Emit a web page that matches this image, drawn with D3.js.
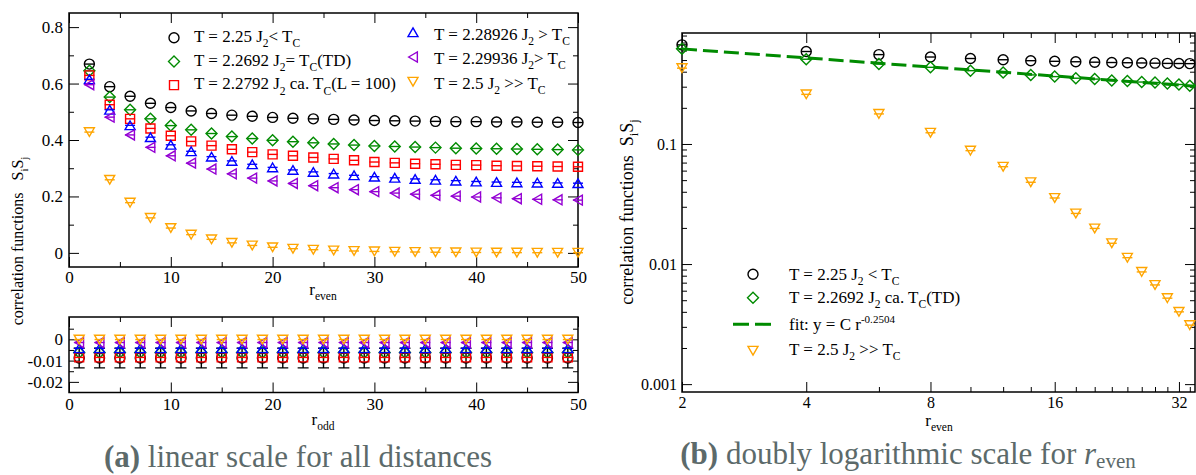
<!DOCTYPE html>
<html>
<head>
<meta charset="utf-8">
<script src="https://cdn.jsdelivr.net/npm/d3@7"></script>
<style>
body { margin: 0; background: #fff; }
svg { display: block; font-family: "Liberation Serif", "DejaVu Serif", "Times New Roman", serif; }
text { white-space: pre; }
</style>
</head>
<body>
<script>
// ---- data ----------------------------------------------------------
const rEven = [2, 4, 6, 8, 10, 12, 14, 16, 18, 20, 22, 24, 26, 28, 30, 32, 34, 36, 38, 40, 42, 44, 46, 48, 50];
const rOdd  = [1, 3, 5, 7, 9, 11, 13, 15, 17, 19, 21, 23, 25, 27, 29, 31, 33, 35, 37, 39, 41, 43, 45, 47, 49];
const rLog  = [2, 4, 6, 8, 10, 12, 14, 16, 18, 20, 22, 24, 26, 28, 30, 32, 34];

// even distances, linear panel
const evenBlack  = [0.669, 0.589, 0.555, 0.530, 0.515, 0.503, 0.494, 0.488, 0.484, 0.480, 0.477, 0.475, 0.473, 0.471, 0.469, 0.468, 0.467, 0.466, 0.465, 0.465, 0.464, 0.464, 0.463, 0.463, 0.462];
const evenGreen  = [0.645, 0.552, 0.507, 0.475, 0.451, 0.436, 0.423, 0.412, 0.405, 0.399, 0.394, 0.390, 0.386, 0.382, 0.379, 0.377, 0.375, 0.373, 0.371, 0.370, 0.369, 0.368, 0.367, 0.366, 0.365];
const evenRed    = [0.629, 0.525, 0.475, 0.441, 0.415, 0.395, 0.380, 0.367, 0.357, 0.349, 0.344, 0.338, 0.333, 0.328, 0.322, 0.319, 0.316, 0.314, 0.312, 0.311, 0.309, 0.308, 0.307, 0.306, 0.305];
const evenBlue   = [0.615, 0.507, 0.452, 0.410, 0.383, 0.360, 0.341, 0.326, 0.314, 0.303, 0.294, 0.287, 0.281, 0.275, 0.270, 0.266, 0.262, 0.259, 0.256, 0.253, 0.251, 0.250, 0.249, 0.248, 0.247];
const evenPurple = [0.596, 0.481, 0.418, 0.374, 0.344, 0.318, 0.297, 0.280, 0.265, 0.255, 0.246, 0.238, 0.231, 0.224, 0.217, 0.212, 0.208, 0.204, 0.201, 0.198, 0.195, 0.192, 0.190, 0.188, 0.187];
const evenOrange = [0.428, 0.259, 0.178, 0.124, 0.088, 0.0647, 0.048, 0.0355, 0.0264, 0.0198, 0.0149, 0.0113, 0.0086, 0.0067, 0.0052, 0.0040, 0.0031, 0.0024, 0.0019, 0.0015, 0.0012, 0.0009, 0.0007, 0.0006, 0.0005];

// odd distances (lower panel)
const oddBlack    = [-0.0088, -0.0088, -0.0088, -0.0088, -0.0088, -0.0088, -0.0088, -0.0088, -0.0088, -0.0088, -0.0088, -0.0088, -0.0088, -0.0088, -0.0088, -0.0088, -0.0088, -0.0088, -0.0088, -0.0088, -0.0088, -0.0088, -0.0088, -0.0088, -0.0088];
const oddBlackErr = [0.0046, 0.0046, 0.0046, 0.0046, 0.0046, 0.0046, 0.0046, 0.0046, 0.0046, 0.0046, 0.0046, 0.0046, 0.0046, 0.0046, 0.0046, 0.0046, 0.0046, 0.0046, 0.0046, 0.0046, 0.0046, 0.0046, 0.0046, 0.0046, 0.0046];
const oddGreen    = [-0.0062, -0.0062, -0.0062, -0.0062, -0.0062, -0.0062, -0.0062, -0.0062, -0.0062, -0.0062, -0.0062, -0.0062, -0.0062, -0.0062, -0.0062, -0.0062, -0.0062, -0.0062, -0.0062, -0.0062, -0.0062, -0.0062, -0.0062, -0.0062, -0.0062];
const oddRed      = [-0.0085, -0.0085, -0.0085, -0.0085, -0.0085, -0.0085, -0.0085, -0.0085, -0.0085, -0.0085, -0.0085, -0.0085, -0.0085, -0.0085, -0.0085, -0.0085, -0.0085, -0.0085, -0.0085, -0.0085, -0.0085, -0.0085, -0.0085, -0.0085, -0.0085];
const oddBlue     = [-0.0042, -0.0042, -0.0042, -0.0042, -0.0042, -0.0042, -0.0042, -0.0042, -0.0042, -0.0042, -0.0042, -0.0042, -0.0042, -0.0042, -0.0042, -0.0042, -0.0042, -0.0042, -0.0042, -0.0042, -0.0042, -0.0042, -0.0042, -0.0042, -0.0042];
const oddPurple   = [-0.0015, -0.0015, -0.0015, -0.0015, -0.0015, -0.0015, -0.0015, -0.0015, -0.0015, -0.0015, -0.0015, -0.0015, -0.0015, -0.0015, -0.0015, -0.0015, -0.0015, -0.0015, -0.0015, -0.0015, -0.0015, -0.0015, -0.0015, -0.0015, -0.0015];
const oddOrange   = [-0.0001, -0.0001, -0.0001, -0.0001, -0.0001, -0.0001, -0.0001, -0.0001, -0.0001, -0.0001, -0.0001, -0.0001, -0.0001, -0.0001, -0.0001, -0.0001, -0.0001, -0.0001, -0.0001, -0.0001, -0.0001, -0.0001, -0.0001, -0.0001, -0.0001];

// log-log panel
const logBlack  = evenBlack.slice(0, rLog.length);
const logGreen  = [0.622, 0.508, 0.464, 0.435, 0.408, 0.393, 0.376, 0.364, 0.353, 0.347, 0.338, 0.334, 0.328, 0.325, 0.319, 0.313, 0.306];
const logOrange = evenOrange.slice(0, rLog.length);
const fitC = 0.737, fitExp = -0.2504;
const fitR = [2, 35];

// ticks
const xTicksA = [0, 10, 20, 30, 40, 50], xMinorA = [5, 15, 25, 35, 45];
const yTicksA = [0, 0.2, 0.4, 0.6, 0.8], yMinorA = [0.1, 0.3, 0.5, 0.7];
const yTicksA2 = [0, -0.01, -0.02], yMinorA2 = [0.005, -0.005, -0.015];
const xTicksB = [2, 4, 8, 16, 32], xMinorB = [6, 10, 12, 14, 18, 20, 22, 24, 26, 28, 30, 34];
const yTicksB = [0.001, 0.01, 0.1];
const yMinorB = [0.002, 0.003, 0.004, 0.005, 0.006, 0.007, 0.008, 0.009,
                 0.02, 0.03, 0.04, 0.05, 0.06, 0.07, 0.08, 0.09,
                 0.2, 0.3, 0.4, 0.5, 0.6, 0.7, 0.8];

// legend labels
const labelsA = [
    "T = 2.25 J_{2}< T_{C}",
    "T = 2.2692 J_{2}= T_{C}(TD)",
    "T = 2.2792 J_{2} ca. T_{C}(L = 100)",
    "T = 2.28926 J_{2} > T_{C}",
    "T = 2.29936 J_{2}> T_{C}",
    "T = 2.5 J_{2} >> T_{C}"
];
const labelsB = [
    "T = 2.25 J_{2} < T_{C}",
    "T = 2.2692 J_{2} ca. T_{C}(TD)",
    "fit: y = C r^{-0.2504}",
    "T = 2.5 J_{2} >> T_{C}"
];

// ---- setup ---------------------------------------------------------
const colors = { black: "#000000", green: "#008b00", red: "#ff0000", blue: "#0000ff", purple: "#9400d3", orange: "#ffa500" };

const svg = d3.select("body").append("svg")
              .attr("width", 1196)
              .attr("height", 475);

const boxA  = { left: 69, right: 578, top: 13, bottom: 267 };
const boxA2 = { left: 69, right: 578, top: 317, bottom: 392.5 };
const boxB  = { left: 682, right: 1195, top: 33, bottom: 392 };

const xA  = d3.scaleLinear().domain([0, 50]).range([boxA.left, boxA.right]);
const yA  = d3.scaleLinear().domain([-0.05, 0.85]).range([boxA.bottom, boxA.top]);
const yA2 = d3.scaleLinear().domain([-0.025, 0.0105]).range([boxA2.bottom, boxA2.top]);
const xB  = d3.scaleLog().domain([2, 35]).range([boxB.left, boxB.right]);
const yB  = d3.scaleLog().domain([0.00086, 0.84]).range([boxB.bottom, boxB.top]);

const shapes = {
    circle:  s => `M${s},0A${s},${s},0,1,1,${-s},0A${s},${s},0,1,1,${s},0Z`,
    square:  s => `M${-s*0.9},${-s*0.9}H${s*0.9}V${s*0.9}H${-s*0.9}Z`,
    diamond: s => `M0,${-s*1.1}L${s*1.1},0L0,${s*1.1}L${-s*1.1},0Z`,
    triUp:   s => `M0,${-s*0.87}L${s},${s*0.87}L${-s},${s*0.87}Z`,
    triLeft: s => `M${-s*0.87},0L${s*0.87},${-s}L${s*0.87},${s}Z`,
    triDown: s => `M0,${s*0.87}L${s},${-s*0.87}L${-s},${-s*0.87}Z`
};
const symSize = 5;

// text with _{sub} / ^{sup} parts as tspans
function rich(sel, str, size) {
    const parts = str.split(/([_^]\{[^}]*\})/).filter(p => p.length);
    let shift = 0;
    parts.forEach(p => {
        let target = 0, fs = size, body = p;
        if (p.startsWith("_{")) { target = size * 0.3; fs = size * 0.68; body = p.slice(2, -1); }
        else if (p.startsWith("^{")) { target = -size * 0.42; fs = size * 0.65; body = p.slice(2, -1); }
        sel.append("tspan").attr("dy", target - shift).attr("font-size", fs).text(body);
        shift = target;
    });
    return sel;
}

// frame plus inward ticks on all four sides
function drawFrame(box, x, y, t) {
    const g = svg.append("g");
    const sides = [
        { fn: d3.axisBottom, s: x, tr: `translate(0,${box.bottom})`, major: t.xMajor, minor: t.xMinor, fmt: t.xFmt, pad: t.xPad },
        { fn: d3.axisTop,    s: x, tr: `translate(0,${box.top})`,    major: t.xMajor, minor: t.xMinor, fmt: null },
        { fn: d3.axisLeft,   s: y, tr: `translate(${box.left},0)`,   major: t.yMajor, minor: t.yMinor, fmt: t.yFmt, pad: t.yPad },
        { fn: d3.axisRight,  s: y, tr: `translate(${box.right},0)`,  major: t.yMajor, minor: t.yMinor, fmt: null }
    ];
    sides.forEach(sd => {
        const ax = g.append("g").attr("transform", sd.tr);
        ax.call(sd.fn(sd.s).tickValues(sd.major).tickSizeInner(-10).tickSizeOuter(0)
                 .tickPadding(sd.fmt ? sd.pad : 0).tickFormat(sd.fmt || (() => "")));
        ax.append("g").call(sd.fn(sd.s).tickValues(sd.minor).tickSizeInner(-5).tickSizeOuter(0).tickFormat(() => ""));
        ax.selectAll(".domain").remove();
        ax.selectAll("line").attr("stroke-width", 1);
        ax.attr("font-family", null);
        ax.selectAll("g").attr("font-family", null);
        ax.selectAll("text")
          .attr("font-size", t.fontSize)
          .attr("fill", "#000");
    });
    g.append("rect")
     .attr("x", box.left).attr("y", box.top)
     .attr("width", box.right - box.left).attr("height", box.bottom - box.top)
     .attr("fill", "none").attr("stroke", "#000").attr("stroke-width", 1.5);
}

// symbols with collapsed error-bar cap through the middle
function drawPoints(rs, vals, x, y, color, shape, errs) {
    const pts = rs.map((r, i) => ({ r: r, v: vals[i], e: errs ? errs[i] : 0 }));
    const g = svg.append("g")
                 .attr("stroke", color)
                 .attr("fill", "none")
                 .attr("stroke-width", 1.4);
    if (errs) {
        g.selectAll(".err").data(pts).enter().append("path")
         .attr("class", "err")
         .attr("d", d => {
             const cx = x(d.r), lo = y(d.v - d.e), hi = y(d.v + d.e);
             return `M${cx},${lo}V${hi}M${cx - 5.5},${lo}H${cx + 5.5}M${cx - 5.5},${hi}H${cx + 5.5}`;
         });
    } else {
        g.selectAll(".cap").data(pts).enter().append("line")
         .attr("x1", d => x(d.r) - symSize).attr("x2", d => x(d.r) + symSize)
         .attr("y1", d => y(d.v)).attr("y2", d => y(d.v));
    }
    g.selectAll(".sym").data(pts).enter().append("path")
     .attr("class", "sym")
     .attr("transform", d => `translate(${x(d.r)},${y(d.v)})`)
     .attr("d", shapes[shape](symSize));
}

const fmtPlain = d => String(d);

// ---- panel (a), even distances ------------------------------------
drawFrame(boxA, xA, yA, { xMajor: xTicksA, xMinor: xMinorA, yMajor: yTicksA, yMinor: yMinorA,
                          xFmt: fmtPlain, yFmt: fmtPlain, xPad: 4, yPad: 6, fontSize: 17 });

const seriesA = [
    { vals: evenBlack,  odd: oddBlack,  err: oddBlackErr, color: colors.black,  shape: "circle" },
    { vals: evenGreen,  odd: oddGreen,  color: colors.green,  shape: "diamond" },
    { vals: evenRed,    odd: oddRed,    color: colors.red,    shape: "square" },
    { vals: evenBlue,   odd: oddBlue,   color: colors.blue,   shape: "triUp" },
    { vals: evenPurple, odd: oddPurple, color: colors.purple, shape: "triLeft" },
    { vals: evenOrange, odd: oddOrange, color: colors.orange, shape: "triDown" }
];
seriesA.forEach(s => drawPoints(rEven, s.vals, xA, yA, s.color, s.shape));

// legend (two columns)
seriesA.forEach((s, i) => {
    const col = i < 3 ? 0 : 1, row = i % 3;
    const sx = col ? 413 : 174, tx = col ? 434 : 194;
    const sy = col ? 32.3 + row * 24.7 : 37.7 + row * 23.7;
    const ty = col ? 39.5 + row * 24.5 : 42 + row * 23.7;
    svg.append("path")
       .attr("transform", `translate(${sx},${sy})`)
       .attr("d", shapes[s.shape](symSize))
       .attr("fill", "none").attr("stroke", s.color).attr("stroke-width", 1.4);
    rich(svg.append("text").attr("x", tx).attr("y", ty).attr("font-size", 17), labelsA[i], 17);
});

rich(svg.append("text").attr("x", 323).attr("y", 295).attr("text-anchor", "middle"), "r_{even}", 17);

// ---- panel (a), odd distances -------------------------------------
drawFrame(boxA2, xA, yA2, { xMajor: xTicksA, xMinor: xMinorA, yMajor: yTicksA2, yMinor: yMinorA2,
                            xFmt: fmtPlain, yFmt: fmtPlain, xPad: 5.5, yPad: 6, fontSize: 17 });
seriesA.forEach(s => drawPoints(rOdd, s.odd, xA, yA2, s.color, s.shape, s.err));

rich(svg.append("text").attr("x", 323).attr("y", 425).attr("text-anchor", "middle"), "r_{odd}", 17);

rich(svg.append("text").attr("transform", "translate(23,241) rotate(-90)").attr("text-anchor", "middle"),
     "correlation functions\u00a0\u00a0\u00a0S_{i}S_{j}", 16);

// ---- panel (b), log-log ------------------------------------------
drawFrame(boxB, xB, yB, { xMajor: xTicksB, xMinor: xMinorB, yMajor: yTicksB, yMinor: yMinorB,
                          xFmt: fmtPlain, yFmt: fmtPlain, xPad: 5, yPad: 5, fontSize: 16 });

const fitLine = d3.line()
                  .x(r => xB(r))
                  .y(r => yB(fitC * Math.pow(r, fitExp)));

drawPoints(rLog, logBlack, xB, yB, colors.black, "circle");
svg.append("path")
   .datum(fitR)
   .attr("d", fitLine)
   .attr("fill", "none")
   .attr("stroke", colors.green)
   .attr("stroke-width", 3)
   .attr("stroke-dasharray", "15,6");
drawPoints(rLog, logGreen, xB, yB, colors.green, "diamond");
drawPoints(rLog, logOrange, xB, yB, colors.orange, "triDown");

// legend (b)
const legB = [
    { color: colors.black,  shape: "circle",  sy: 274.3, ty: 280 },
    { color: colors.green,  shape: "diamond", sy: 297.7, ty: 302.7 },
    { color: colors.green,  shape: null,      sy: 324.3, ty: 330 },
    { color: colors.orange, shape: "triDown", sy: 350.7, ty: 355 }
];
legB.forEach((l, i) => {
    if (l.shape) {
        svg.append("path")
           .attr("transform", `translate(753,${l.sy})`)
           .attr("d", shapes[l.shape](symSize))
           .attr("fill", "none").attr("stroke", l.color).attr("stroke-width", 1.4);
    } else {
        svg.append("line")
           .attr("x1", 733).attr("x2", 773).attr("y1", l.sy).attr("y2", l.sy)
           .attr("stroke", l.color).attr("stroke-width", 3).attr("stroke-dasharray", "16,6");
    }
    rich(svg.append("text").attr("x", 789).attr("y", l.ty).attr("font-size", 17), labelsB[i], 17);
});

rich(svg.append("text").attr("x", 939).attr("y", 426).attr("text-anchor", "middle"), "r_{even}", 17);
rich(svg.append("text").attr("transform", "translate(633,212) rotate(-90)").attr("text-anchor", "middle"),
     "correlation functions\u00a0\u00a0S_{i}S_{j}", 18);

// ---- captions ------------------------------------------------------
const capColor = "#5c6a6a";
const capA = svg.append("text").attr("x", 298).attr("y", 467).attr("text-anchor", "middle")
                .attr("font-size", 31).attr("fill", capColor);
capA.append("tspan").attr("font-weight", "bold").text("(a)");
capA.append("tspan").text(" linear scale for all distances");

const capB = svg.append("text").attr("x", 908).attr("y", 464).attr("text-anchor", "middle")
                .attr("font-size", 31).attr("fill", capColor);
capB.append("tspan").attr("font-weight", "bold").text("(b)");
capB.append("tspan").text(" doubly logarithmic scale for ");
capB.append("tspan").attr("font-style", "italic").text("r");
capB.append("tspan").attr("font-size", 21).attr("dy", 4).text("even");
</script>
</body>
</html>
